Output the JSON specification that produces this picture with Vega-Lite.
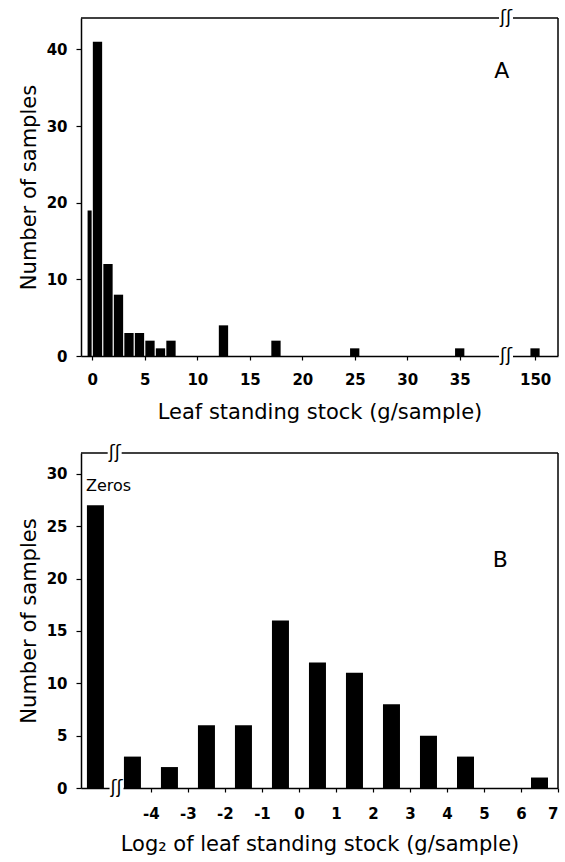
{
  "$schema": "https://vega.github.io/schema/vega-lite/v6.json",
  "background": "white",
  "padding": {"left": 18, "top": 9, "right": 4, "bottom": 2},
  "spacing": 22,
  "config": {
    "font": "DejaVu Sans",
    "view": {"stroke": null},
    "axis": {
      "grid": false,
      "domainColor": "black",
      "domainWidth": 1.5,
      "tickColor": "black",
      "tickWidth": 1.2,
      "tickSize": 5,
      "labelFont": "DejaVu Sans",
      "labelFontWeight": "bold",
      "labelFontSize": 15,
      "labelColor": "black",
      "labelPadding": 9,
      "titleFont": "DejaVu Sans",
      "titleFontWeight": "normal",
      "titleFontSize": 21,
      "titleColor": "black"
    }
  },
  "vconcat": [
    {
      "width": 477,
      "height": 338,
      "layer": [
        {
          "data": {"values": [
            {"bin_start": -0.5, "bin_end": 0, "count": 19},
            {"bin_start": 0, "bin_end": 1, "count": 41},
            {"bin_start": 1, "bin_end": 2, "count": 12},
            {"bin_start": 2, "bin_end": 3, "count": 8},
            {"bin_start": 3, "bin_end": 4, "count": 3},
            {"bin_start": 4, "bin_end": 5, "count": 3},
            {"bin_start": 5, "bin_end": 6, "count": 2},
            {"bin_start": 6, "bin_end": 7, "count": 1},
            {"bin_start": 7, "bin_end": 8, "count": 2},
            {"bin_start": 12, "bin_end": 13, "count": 4},
            {"bin_start": 17, "bin_end": 18, "count": 2},
            {"bin_start": 24.5, "bin_end": 25.5, "count": 1},
            {"bin_start": 34.5, "bin_end": 35.5, "count": 1},
            {"bin_start": 149.5, "bin_end": 150.5, "count": 1}
          ]},
          "mark": {"type": "rect", "color": "black", "xOffset": 0.5, "x2Offset": -0.7},
          "encoding": {
            "x": {
              "field": "bin_start",
              "type": "quantitative",
              "scale": {"domain": [-1.08, 39.4, 147.2, 152.2], "range": [0, 425, 425, 477], "nice": false, "zero": false},
              "axis": {"values": [0, 5, 10, 15, 20, 25, 30, 35, 150], "format": "d", "tickSize": 4, "labelPadding": 12, "title": "Leaf standing stock (g/sample)", "titlePadding": 14}
            },
            "x2": {"field": "bin_end"},
            "y": {
              "field": "count",
              "type": "quantitative",
              "scale": {"domain": [0, 44.1], "nice": false},
              "axis": {"values": [0, 10, 20, 30, 40], "title": "Number of samples", "titlePadding": 7}
            },
            "y2": {"datum": 0}
          }
        },
        {
          "data": {"values": [{"edge": "top"}]},
          "mark": {"type": "rule", "color": "black", "strokeWidth": 1.5},
          "encoding": {"y": {"datum": 44.1, "type": "quantitative"}}
        },
        {
          "data": {"values": [{"edge": "right"}]},
          "mark": {"type": "rule", "color": "black", "strokeWidth": 1.5},
          "encoding": {"x": {"datum": 152.2, "type": "quantitative"}}
        },
        {
          "data": {"values": [{"pos": 39.4, "level": 0}, {"pos": 39.4, "level": 44.1}]},
          "mark": {"type": "rect", "color": "white", "xOffset": -7, "x2Offset": 7, "yOffset": -3, "y2Offset": 3},
          "encoding": {
            "x": {"field": "pos", "type": "quantitative"},
            "x2": {"field": "pos"},
            "y": {"field": "level", "type": "quantitative"},
            "y2": {"field": "level"}
          }
        },
        {
          "data": {"values": [{"pos": 39.4, "level": 0}, {"pos": 39.4, "level": 44.1}]},
          "mark": {"type": "text", "text": "ʃʃ", "fontSize": 18, "baseline": "middle", "align": "center", "color": "black"},
          "encoding": {
            "x": {"field": "pos", "type": "quantitative"},
            "y": {"field": "level", "type": "quantitative"}
          }
        },
        {
          "data": {"values": [{"label": "A", "px": 39, "py": 37.2}]},
          "mark": {"type": "text", "fontSize": 22, "baseline": "middle", "align": "center", "color": "black"},
          "encoding": {
            "x": {"field": "px", "type": "quantitative"},
            "y": {"field": "py", "type": "quantitative"},
            "text": {"field": "label"}
          }
        }
      ]
    },
    {
      "width": 477,
      "height": 335,
      "layer": [
        {
          "data": {"values": [
            {"bin": "Zeros", "bin_start": -6, "bin_end": -5, "count": 27},
            {"bin": "-5 to -4", "bin_start": -5, "bin_end": -4, "count": 3},
            {"bin": "-4 to -3", "bin_start": -4, "bin_end": -3, "count": 2},
            {"bin": "-3 to -2", "bin_start": -3, "bin_end": -2, "count": 6},
            {"bin": "-2 to -1", "bin_start": -2, "bin_end": -1, "count": 6},
            {"bin": "-1 to 0", "bin_start": -1, "bin_end": 0, "count": 16},
            {"bin": "0 to 1", "bin_start": 0, "bin_end": 1, "count": 12},
            {"bin": "1 to 2", "bin_start": 1, "bin_end": 2, "count": 11},
            {"bin": "2 to 3", "bin_start": 2, "bin_end": 3, "count": 8},
            {"bin": "3 to 4", "bin_start": 3, "bin_end": 4, "count": 5},
            {"bin": "4 to 5", "bin_start": 4, "bin_end": 5, "count": 3},
            {"bin": "5 to 6", "bin_start": 5, "bin_end": 6, "count": 0},
            {"bin": "6 to 7", "bin_start": 6, "bin_end": 7, "count": 1}
          ]},
          "mark": {"type": "rect", "color": "black", "xOffset": 10, "x2Offset": -10},
          "encoding": {
            "x": {
              "field": "bin_start",
              "type": "quantitative",
              "scale": {"domain": [-5.89, 7], "nice": false, "zero": false},
              "axis": {"values": [-4, -3, -2, -1, 0, 1, 2, 3, 4, 5, 6, 7], "labelExpr": "replace(datum.label, '−', '-')", "tickSize": 4, "labelPadding": 14, "title": "Log₂ of leaf standing stock (g/sample)", "titlePadding": 12}
            },
            "x2": {"field": "bin_end"},
            "y": {
              "field": "count",
              "type": "quantitative",
              "scale": {"domain": [0, 32], "nice": false},
              "axis": {"values": [0, 5, 10, 15, 20, 25, 30], "title": "Number of samples", "titlePadding": 7}
            },
            "y2": {"datum": 0}
          }
        },
        {
          "data": {"values": [{"bin": "Zeros", "bin_start": -6, "count": 27}]},
          "mark": {"type": "text", "fontSize": 16, "baseline": "middle", "align": "left", "dx": 9, "dy": -19, "color": "black"},
          "encoding": {
            "x": {"field": "bin_start", "type": "quantitative"},
            "y": {"field": "count", "type": "quantitative"},
            "text": {"field": "bin"}
          }
        },
        {
          "data": {"values": [{"edge": "top"}]},
          "mark": {"type": "rule", "color": "black", "strokeWidth": 1.5},
          "encoding": {"y": {"datum": 32, "type": "quantitative"}}
        },
        {
          "data": {"values": [{"edge": "right"}]},
          "mark": {"type": "rule", "color": "black", "strokeWidth": 1.5},
          "encoding": {"x": {"datum": 7, "type": "quantitative"}}
        },
        {
          "data": {"values": [{"pos": -4.93, "level": 0}, {"pos": -4.98, "level": 32}]},
          "mark": {"type": "rect", "color": "white", "xOffset": -7, "x2Offset": 7, "yOffset": -3, "y2Offset": 3},
          "encoding": {
            "x": {"field": "pos", "type": "quantitative"},
            "x2": {"field": "pos"},
            "y": {"field": "level", "type": "quantitative"},
            "y2": {"field": "level"}
          }
        },
        {
          "data": {"values": [{"pos": -4.93, "level": 0}, {"pos": -4.98, "level": 32}]},
          "mark": {"type": "text", "text": "ʃʃ", "fontSize": 18, "baseline": "middle", "align": "center", "color": "black"},
          "encoding": {
            "x": {"field": "pos", "type": "quantitative"},
            "y": {"field": "level", "type": "quantitative"}
          }
        },
        {
          "data": {"values": [{"label": "B", "px": 5.44, "py": 21.8}]},
          "mark": {"type": "text", "fontSize": 22, "baseline": "middle", "align": "center", "color": "black"},
          "encoding": {
            "x": {"field": "px", "type": "quantitative"},
            "y": {"field": "py", "type": "quantitative"},
            "text": {"field": "label"}
          }
        }
      ]
    }
  ]
}
